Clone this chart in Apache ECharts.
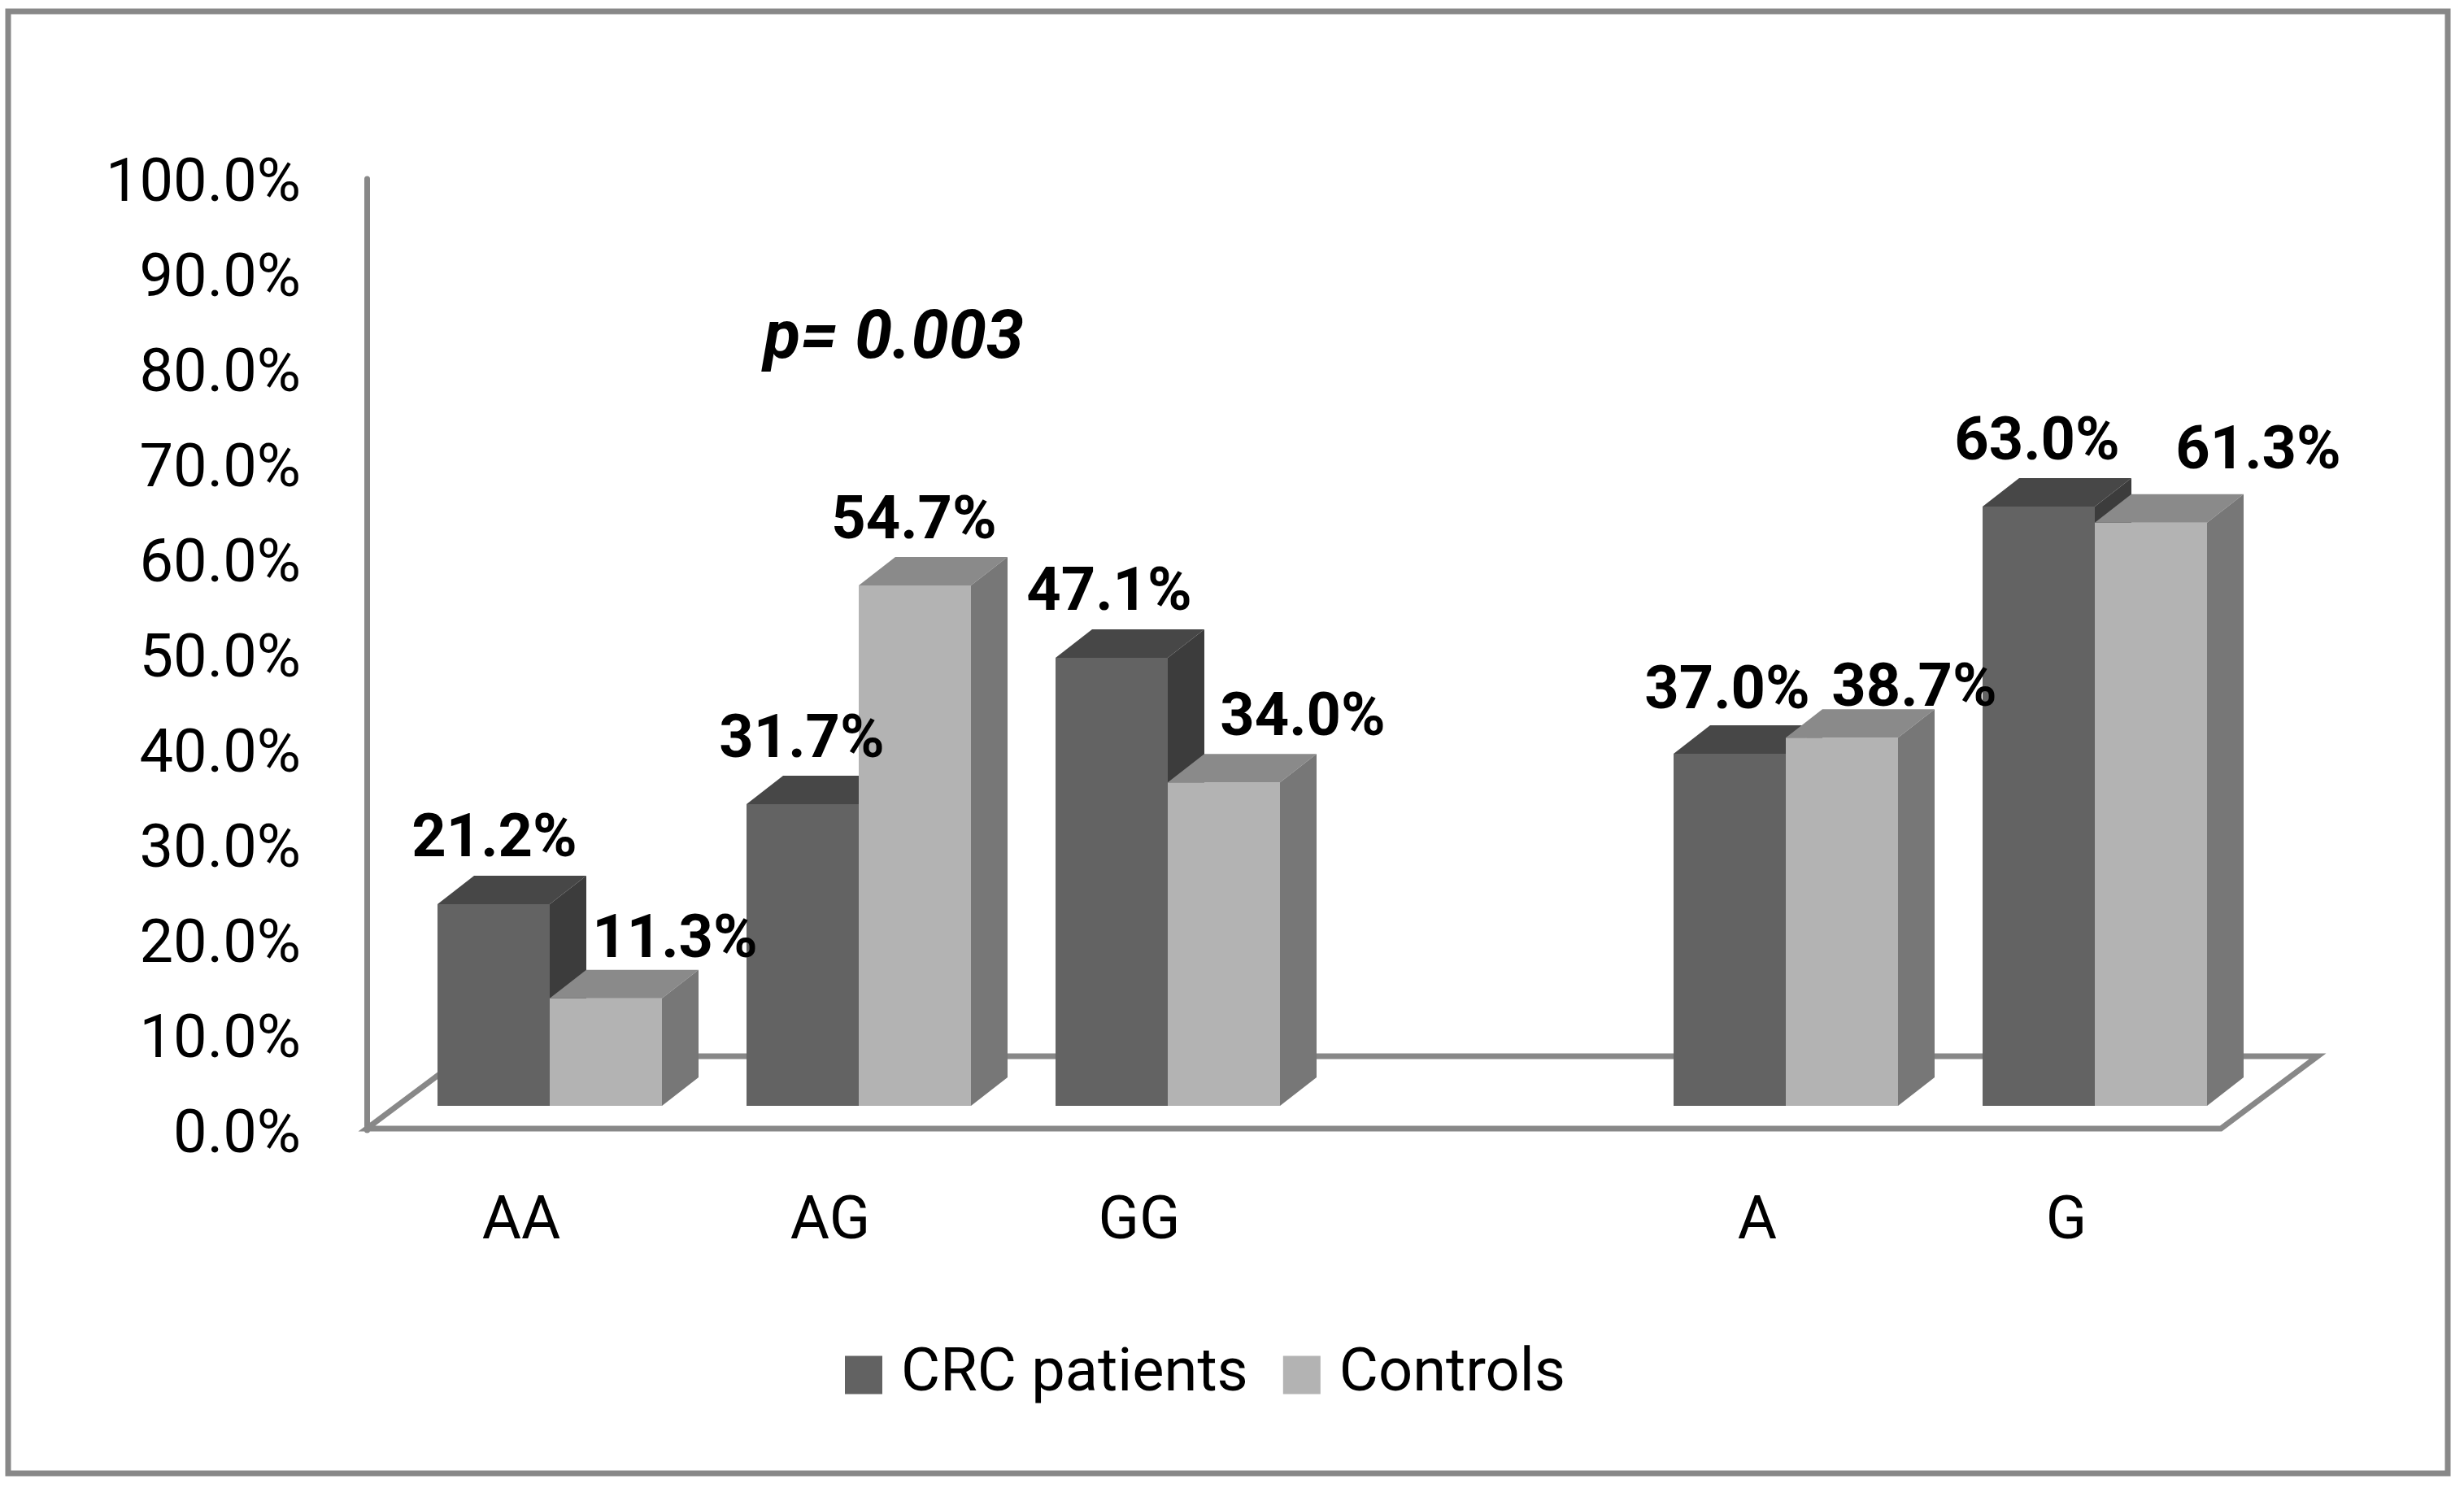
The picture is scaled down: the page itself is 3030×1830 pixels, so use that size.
<!DOCTYPE html>
<html>
<head>
<meta charset="utf-8">
<script src="https://cdn.jsdelivr.net/npm/echarts@6/dist/echarts.min.js"></script>
<style>
  html, body { margin: 0; padding: 0; background: #ffffff; }
  #chart { width: 3030px; height: 1830px; }
</style>
</head>
<body>
<div id="chart"></div>
<script>
// ---- data ----
const categories = ['AA', 'AG', 'GG', '', 'A', 'G'];
const crcPatients = [21.2, 31.7, 47.1, null, 37.0, 63.0];
const controls = [11.3, 54.7, 34.0, null, 38.7, 61.3];
const seriesNames = ['CRC patients', 'Controls'];
const yMin = 0, yMax = 100, yStep = 10;
const pValueText = 'p= 0.003';

// ---- style ----
const FONT = 'Roboto';
const TEXT_DY = 8;                 // font baseline correction
const BAR_FRAC = 138 / 380;        // bar width as share of category band
const DEPTH_X = 45, DEPTH_Y = -35; // 3D depth of bars
const FLOOR_DX = 119, FLOOR_DY = -89;
const crcPalette = { front: '#636363', top: '#474747', side: '#3c3c3c' };
const ctrlPalette = { front: '#b3b3b3', top: '#8a8a8a', side: '#777777' };
// label nudges (px) relative to front-face centre / top
const crcLabelNudge = [[1, -85], [-1, -85], [-3, -85], null, [-3, -83], [-2, -84]];
const ctrlLabelNudge = [[85, -77], [-1, -85], [97, -85], null, [89, -66], [132, -93]];

function toPoints(arr) {
  return arr.map((v, i) => [i, v]).filter(d => d[1] !== null && d[1] !== undefined);
}

function barGeom(sideIndex, api) {
  const idx = api.value(0);
  const val = api.value(1);
  const base = api.coord([idx, 0]);
  const top = api.coord([idx, val]);
  const band = api.size([1, 0])[0];
  const w = band * BAR_FRAC;
  const x0 = sideIndex === 0 ? base[0] - w : base[0];
  return { idx, val, x0, x1: x0 + w, w, yb: base[1], yt: top[1] };
}

function makeBarRenderer(sideIndex, palette) {
  return function (params, api) {
    const g = barGeom(sideIndex, api);
    const { x0, x1, w, yb, yt } = g;
    return {
      type: 'group',
      children: [
        { type: 'rect', shape: { x: x0, y: yt, width: w, height: yb - yt }, style: { fill: palette.front } },
        { type: 'polygon', shape: { points: [[x0, yt], [x0 + DEPTH_X, yt + DEPTH_Y], [x1 + DEPTH_X, yt + DEPTH_Y], [x1, yt]] }, style: { fill: palette.top } },
        { type: 'polygon', shape: { points: [[x1, yt], [x1 + DEPTH_X, yt + DEPTH_Y], [x1 + DEPTH_X, yb + DEPTH_Y], [x1, yb]] }, style: { fill: palette.side } }
      ]
    };
  };
}

function makeLabelRenderer(sideIndex, nudges) {
  return function (params, api) {
    const g = barGeom(sideIndex, api);
    const n = nudges[g.idx] || [0, -85];
    return {
      type: 'text',
      style: {
        text: g.val.toFixed(1) + '%',
        x: (g.x0 + g.x1) / 2 + n[0], y: g.yt + n[1] + TEXT_DY,
        align: 'center', verticalAlign: 'middle',
        font: 'bold 74px ' + FONT, fill: '#000000'
      }
    };
  };
}

function floorRenderer(params, api) {
  const band = api.size([1, 0])[0];
  const first = api.coord([0, 0]);
  const last = api.coord([categories.length - 1, 0]);
  const x0 = first[0] - band / 2;
  const x1 = last[0] + band / 2;
  const y = first[1] - 2;
  return {
    type: 'polygon',
    shape: { points: [[x0, y], [x1, y], [x1 + FLOOR_DX, y + FLOOR_DY], [x0 + FLOOR_DX, y + FLOOR_DY]] },
    style: { fill: 'none', stroke: '#888888', lineWidth: 7, lineJoin: 'miter' }
  };
}

const chart = echarts.init(document.getElementById('chart'), null, { renderer: 'canvas' });
chart.setOption({
  backgroundColor: '#ffffff',
  animation: false,
  grid: [
    { left: 451, top: 220, width: 2280, height: 1170 },   // axis / labels grid
    { left: 486, top: 190, width: 2280, height: 1170 }    // bar grid
  ],
  xAxis: [
    {
      type: 'category', gridIndex: 0, data: categories,
      axisLine: { show: false }, axisTick: { show: false },
      axisLabel: { fontFamily: FONT, fontSize: 74, lineHeight: 74, color: '#000', margin: 69 + TEXT_DY, interval: 0 }
    },
    {
      type: 'category', gridIndex: 1, data: categories, show: false
    }
  ],
  yAxis: [
    {
      type: 'value', gridIndex: 0, min: yMin, max: yMax, interval: yStep,
      axisLine: { show: true, lineStyle: { color: '#888888', width: 7 } },
      axisTick: { show: false }, splitLine: { show: false },
      axisLabel: {
        margin: 81,
        formatter: v => '{t|' + v.toFixed(1) + '%}',
        rich: { t: { fontFamily: FONT, fontSize: 74, lineHeight: 74, color: '#000', padding: [TEXT_DY * 2, 0, 0, 0] } }
      }
    },
    {
      type: 'value', gridIndex: 1, min: yMin, max: yMax, show: false, splitLine: { show: false }
    }
  ],
  legend: {
    data: seriesNames,
    left: 1039, top: 1654, padding: 0,
    icon: 'rect', itemWidth: 46, itemHeight: 47, itemGap: 43,
    textStyle: { fontFamily: FONT, fontSize: 74, lineHeight: 74, color: '#000', padding: [0, 0, 0, 18] }
  },
  graphic: [
    { type: 'rect', silent: true, shape: { x: 10, y: 14, width: 3000, height: 1798 }, style: { fill: 'none', stroke: '#888888', lineWidth: 7 } },
    { type: 'text', silent: true, x: 939, y: 411 + TEXT_DY, style: { text: pValueText, font: 'italic bold 83px ' + FONT, fill: '#000', verticalAlign: 'middle', align: 'left' } }
  ],
  series: [
    {
      type: 'custom', name: 'floor', xAxisIndex: 0, yAxisIndex: 0, z: 1,
      renderItem: floorRenderer, data: [[0, 0]], silent: true
    },
    {
      type: 'custom', name: seriesNames[0], xAxisIndex: 1, yAxisIndex: 1, z: 2,
      itemStyle: { color: '#626262' },
      renderItem: makeBarRenderer(0, crcPalette),
      data: toPoints(crcPatients)
    },
    {
      type: 'custom', name: seriesNames[1], xAxisIndex: 1, yAxisIndex: 1, z: 3,
      itemStyle: { color: '#b3b3b3' },
      renderItem: makeBarRenderer(1, ctrlPalette),
      data: toPoints(controls)
    },
    {
      type: 'custom', name: 'crc-labels', xAxisIndex: 1, yAxisIndex: 1, z: 10, silent: true,
      renderItem: makeLabelRenderer(0, crcLabelNudge),
      data: toPoints(crcPatients)
    },
    {
      type: 'custom', name: 'controls-labels', xAxisIndex: 1, yAxisIndex: 1, z: 10, silent: true,
      renderItem: makeLabelRenderer(1, ctrlLabelNudge),
      data: toPoints(controls)
    }
  ]
});
</script>
</body>
</html>
